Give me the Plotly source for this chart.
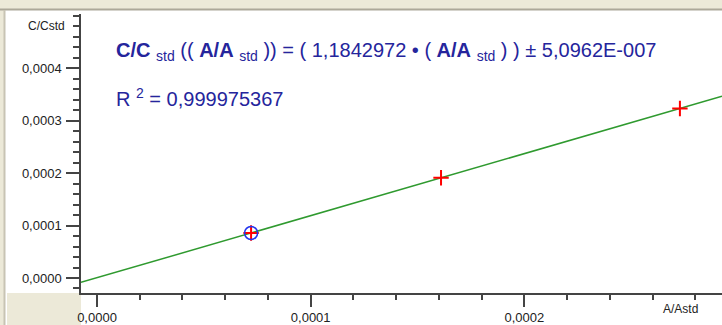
import plotly.graph_objects as go

# Calibration standards (A/Astd vs C/Cstd)
x_ratio = [0.0000721, 0.0001610, 0.0002728]
y_ratio = [0.0000859, 0.0001912, 0.0003236]
selected = 0  # currently highlighted standard

# Regression result
slope = 1.1842972
intercept = 5.0962e-7
r_squared = "0,999975367"

x_ticks = [0.0, 0.0001, 0.0002]
y_ticks = [0.0, 0.0001, 0.0002, 0.0003, 0.0004]

x_range = [-0.0000075, 0.0002925]
y_range = [-0.0000286, 0.0005038]

W, H = 722, 325
ML, MR, MT, MB = 81, 0, 14, 32
PW, PH = W - ML - MR, H - MT - MB


def px(v):
    return (v - ML) / PW


def py(v):
    return (H - MB - v) / PH


beige = "#ECE9D8"
edge = "#ACA899"
navy = "#25259c"
font_family = "Liberation Sans, Arial"

fig = go.Figure()

# regression line over the full axis range
fig.add_trace(go.Scatter(
    x=x_range,
    y=[slope * v + intercept for v in x_range],
    mode="lines",
    line=dict(color="#2f9a2f", width=1.5),
    hoverinfo="skip",
))

# calibration points
fig.add_trace(go.Scatter(
    x=x_ratio, y=y_ratio, mode="markers",
    marker=dict(symbol="cross-thin", size=11, color="red",
                line=dict(color="red", width=2)),
))

# highlight ring on the selected point
fig.add_trace(go.Scatter(
    x=[x_ratio[selected]], y=[y_ratio[selected]], mode="markers",
    marker=dict(symbol="circle-open", size=13, color="#2233ee",
                line=dict(color="#2233ee", width=1.5)),
))

shapes = [
    # window frame bands
    dict(type="rect", xref="paper", yref="paper", x0=px(0), x1=px(W), y0=py(9), y1=py(0),
         fillcolor=beige, line_width=0, layer="below"),
    dict(type="line", xref="paper", yref="paper", x0=px(0), x1=px(W), y0=py(9.5), y1=py(9.5),
         line=dict(color=edge, width=2)),
    dict(type="rect", xref="paper", yref="paper", x0=px(0), x1=px(4), y0=py(H), y1=py(9),
         fillcolor=beige, line_width=0, layer="below"),
    dict(type="line", xref="paper", yref="paper", x0=px(4.5), x1=px(4.5), y0=py(H), y1=py(10),
         line=dict(color="#c8c4b4", width=2)),
    dict(type="rect", xref="paper", yref="paper", x0=px(7), x1=px(81), y0=py(H), y1=py(293),
         fillcolor=beige, line_width=0, layer="below"),
]

annotations = [
    dict(xref="paper", yref="paper", x=px(114), y=py(51), xanchor="left", yanchor="middle",
         showarrow=False, font=dict(family=font_family, size=20, color=navy),
         text="<b>C/C</b> <sub>std</sub> (( <b>A/A</b> <sub>std</sub> )) = ( 1,1842972 \u2022 "
              "( <b>A/A</b> <sub>std</sub> ) ) \u00b1 5,0962E-007"),
    dict(xref="paper", yref="paper", x=px(114), y=py(97), xanchor="left", yanchor="middle",
         showarrow=False, font=dict(family=font_family, size=20, color=navy),
         text="R <sup>2</sup> = " + r_squared),
    # axis titles
    dict(xref="paper", yref="paper", x=px(67), y=py(26), xanchor="right", yanchor="middle",
         showarrow=False, font=dict(family=font_family, size=12, color="#222"),
         text="C/Cstd"),
    dict(xref="paper", yref="paper", x=px(680), y=py(309), xanchor="center", yanchor="middle",
         showarrow=False, font=dict(family=font_family, size=12, color="#222"),
         text="A/Astd"),
]

axis_common = dict(
    showgrid=False, zeroline=False, showline=True, linecolor="#444", linewidth=1.5,
    ticks="outside", tickcolor="#444", tickwidth=1.5,
    tickformat=".4f",
    tickfont=dict(family=font_family, size=13, color="#222"),
)

fig.update_layout(
    width=W, height=H,
    margin=dict(l=ML, r=MR, t=MT, b=MB),
    paper_bgcolor="white", plot_bgcolor="white",
    showlegend=False,
    separators=", ",
    shapes=shapes,
    annotations=annotations,
    xaxis=dict(axis_common, range=x_range, tickmode="array", tickvals=x_ticks, ticklen=12,
               minor=dict(dtick=0.00002, tick0=0, ticks="outside", ticklen=5,
                          tickcolor="#444", tickwidth=1.5)),
    yaxis=dict(axis_common, range=y_range, tickmode="array", tickvals=y_ticks, ticklen=13,
               ticklabelstandoff=2,
               minor=dict(dtick=0.00002, tick0=0, ticks="outside", ticklen=6,
                          tickcolor="#444", tickwidth=1.5)),
)

fig.write_html("out.html")
